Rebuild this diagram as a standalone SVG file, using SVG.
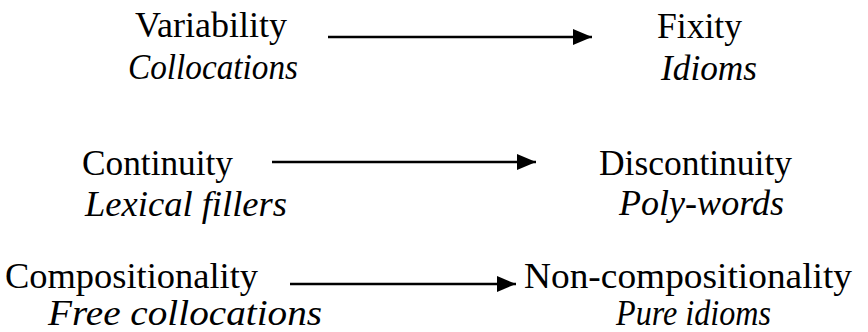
<svg xmlns="http://www.w3.org/2000/svg" width="868" height="332" viewBox="0 0 868 332">
<style>
text{font-family:"Liberation Serif","Times New Roman",serif;font-size:35px;fill:#000}
.it{font-style:italic}
.conn line{stroke:#000;stroke-width:2.5}
</style>
<defs>
<marker id="ah" viewBox="0 0 19 16" refX="19" refY="8" markerWidth="19" markerHeight="16" markerUnits="userSpaceOnUse" orient="auto">
<path d="M0,0 L19,8 L0,16 Z" fill="#000"/>
</marker>
</defs>
<rect width="868" height="332" fill="#fff"/>
<g id="variability"><text x="135" y="37" textLength="152" lengthAdjust="spacingAndGlyphs">Variability</text><text class="it" x="128" y="79" textLength="170" lengthAdjust="spacingAndGlyphs">Collocations</text></g>
<g id="fixity"><text x="657" y="38" textLength="85" lengthAdjust="spacingAndGlyphs">Fixity</text><text class="it" x="661" y="80" textLength="96" lengthAdjust="spacingAndGlyphs">Idioms</text></g>
<g id="continuity"><text x="82" y="175" textLength="151" lengthAdjust="spacingAndGlyphs">Continuity</text><text class="it" x="85" y="216" textLength="202" lengthAdjust="spacingAndGlyphs">Lexical fillers</text></g>
<g id="discontinuity"><text x="599" y="175" textLength="193" lengthAdjust="spacingAndGlyphs">Discontinuity</text><text class="it" x="619" y="215" textLength="165" lengthAdjust="spacingAndGlyphs">Poly-words</text></g>
<g id="compositionality"><text x="5" y="288" textLength="253" lengthAdjust="spacingAndGlyphs">Compositionality</text><text class="it" x="48" y="325" textLength="274" lengthAdjust="spacingAndGlyphs">Free collocations</text></g>
<g id="noncompositionality"><text x="524" y="288" textLength="328" lengthAdjust="spacingAndGlyphs">Non-compositionality</text><text class="it" x="616" y="325" textLength="155" lengthAdjust="spacingAndGlyphs">Pure idioms</text></g>
<g class="conn" id="connectors">
<line x1="328" y1="37" x2="592" y2="37" marker-end="url(#ah)"/>
<line x1="272" y1="162" x2="536" y2="162" marker-end="url(#ah)"/>
<line x1="290" y1="284" x2="516" y2="284" marker-end="url(#ah)"/>
</g>
</svg>
